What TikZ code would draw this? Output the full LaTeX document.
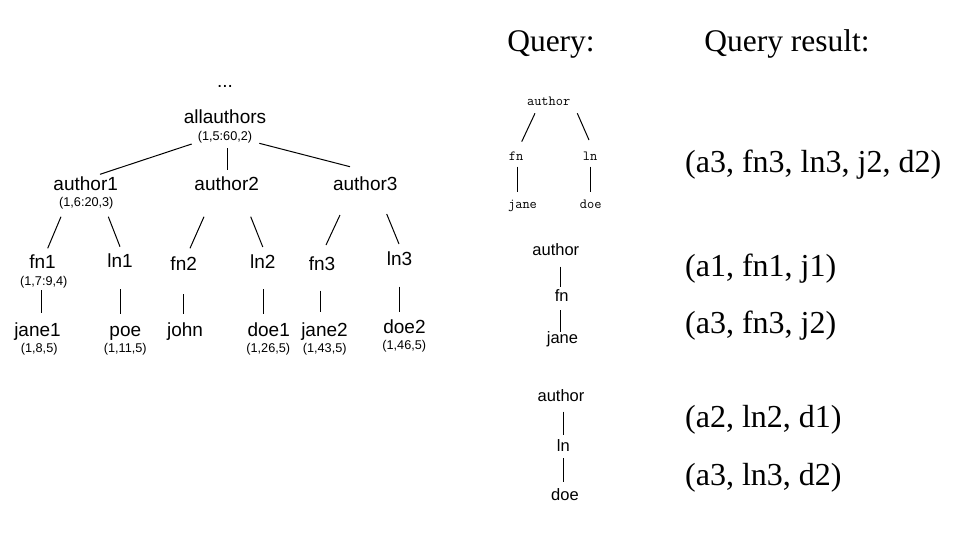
\documentclass[tikz,border=0pt]{standalone}
\usepackage{fontspec}
\setmainfont{Liberation Serif}
\setsansfont{Liberation Sans}
\tikzset{
  tn/.style={anchor=base,inner sep=0pt,font=\sffamily\fontsize{19}{21}\selectfont},
  tl/.style={anchor=base,inner sep=0pt,font=\sffamily\fontsize{12.7}{14}\selectfont},
  qt/.style={anchor=base,inner sep=0pt,font=\ttfamily\fontsize{14}{16}\selectfont},
  qs/.style={anchor=base,inner sep=0pt,font=\sffamily\fontsize{16.5}{18}\selectfont},
  hd/.style={anchor=base,inner sep=0pt,font=\fontsize{31.5}{34}\selectfont},
  res/.style={anchor=base west,inner sep=0pt,font=\fontsize{32}{36}\selectfont},
  edge/.style={line width=1pt}
}
\begin{document}
\begin{tikzpicture}[x=1pt,y=-1pt]
\useasboundingbox (0,0) rectangle (959,544);
% data tree
\node[tn] (dots) at (225,87) {...};
\node[tn] (aa) at (225,123) {allauthors};
\node[tl] (aal) at (225,140.4) {(1,5:60,2)};
\node[tn] (a1) at (85.7,190) {author1};
\node[tl] (a1l) at (86.3,206.7) {(1,6:20,3)};
\node[tn] (a2) at (226.7,190) {author2};
\node[tn] (a3) at (365.3,190) {author3};
\node[tn] (fn1) at (42.5,268) {fn1};
\node[tl] (fn1l) at (43.8,285.7) {(1,7:9,4)};
\node[tn] (ln1) at (120,267.7) {ln1};
\node[tn] (fn2) at (183.7,270) {fn2};
\node[tn] (ln2) at (262.8,268) {ln2};
\node[tn] (fn3) at (322,270) {fn3};
\node[tn] (ln3) at (399.5,265.7) {ln3};
\node[tn] (jane1) at (37.5,336) {jane1};
\node[tl] (jane1l) at (39.2,352.4) {(1,8,5)};
\node[tn] (poe) at (125.3,336) {poe};
\node[tl] (poel) at (125.3,352.4) {(1,11,5)};
\node[tn] (john) at (185,336) {john};
\node[tn] (doe1) at (268.7,336) {doe1};
\node[tl] (doe1l) at (268.3,352.4) {(1,26,5)};
\node[tn] (jane2) at (324.5,336) {jane2};
\node[tl] (jane2l) at (324.7,352.4) {(1,43,5)};
\node[tn] (doe2) at (404.5,333.3) {doe2};
\node[tl] (doe2l) at (404.3,349) {(1,46,5)};
\draw[edge] ([shift={(-33.3,3.6)}]aal.base) -- ([shift={(14.3,-15.7)}]a1.base);
\draw[edge] ([shift={(2.7,7.9)}]aal.base) -- ([shift={(1,-20)}]a2.base);
\draw[edge] ([shift={(34.3,2.9)}]aal.base) -- ([shift={(-15.3,-23.3)}]a3.base);
\draw[edge] ([shift={(-25.3,10)}]a1l.base) -- ([shift={(5.2,-19.7)}]fn1.base);
\draw[edge] ([shift={(22,10)}]a1l.base) -- ([shift={(0,-21)}]ln1.base);
\draw[edge] ([shift={(-22.7,26.7)}]a2.base) -- ([shift={(6.3,-21.7)}]fn2.base);
\draw[edge] ([shift={(24,26.7)}]a2.base) -- ([shift={(0,-21)}]ln2.base);
\draw[edge] ([shift={(-25.3,25)}]a3.base) -- ([shift={(4,-25)}]fn3.base);
\draw[edge] ([shift={(21.4,24)}]a3.base) -- ([shift={(-0.5,-21.7)}]ln3.base);
\draw[edge] ([shift={(-2.1,4.3)}]fn1l.base) -- ([shift={(4.2,-22.7)}]jane1.base);
\draw[edge] ([shift={(0,21.6)}]ln1.base) -- ([shift={(-5.3,-22)}]poe.base);
\draw[edge] ([shift={(0,24)}]fn2.base) -- ([shift={(-1.3,-22)}]john.base);
\draw[edge] ([shift={(0.5,21.3)}]ln2.base) -- ([shift={(-5.4,-22)}]doe1.base);
\draw[edge] ([shift={(-1.3,20.7)}]fn3.base) -- ([shift={(-3.8,-24.3)}]jane2.base);
\draw[edge] ([shift={(-0.2,21)}]ln3.base) -- ([shift={(-5.2,-21.6)}]doe2.base);
% headings
\node[hd] (qry) at (551,51.5) {Query:};
\node[hd] (qres) at (787,51.5) {Query result:};
% query 1
\node[qt] (q1a) at (548.7,105.7) {author};
\node[qt] (q1f) at (516,160) {fn};
\node[qt] (q1l) at (590,160) {ln};
\node[qt] (q1j) at (522.5,208.3) {jane};
\node[qt] (q1d) at (590.8,208.3) {doe};
\draw[edge] ([shift={(-13.7,7.6)}]q1a.base) -- ([shift={(5.7,-18.3)}]q1f.base);
\draw[edge] ([shift={(28.6,7.6)}]q1a.base) -- ([shift={(-1,-20)}]q1l.base);
\draw[edge] ([shift={(1.7,6.7)}]q1f.base) -- ([shift={(-4.8,-16.6)}]q1j.base);
\draw[edge] ([shift={(0,6.7)}]q1l.base) -- ([shift={(-0.8,-16.6)}]q1d.base);
% query 2
\node[qs] (q2a) at (555.8,255.7) {author};
\node[qs] (q2f) at (561.7,301.7) {fn};
\node[qs] (q2j) at (562.5,343.3) {jane};
\draw[edge] ([shift={(4.2,11)}]q2a.base) -- ([shift={(-1.7,-15)}]q2f.base);
\draw[edge] ([shift={(-1.7,8.3)}]q2f.base) -- ([shift={(-2.5,-11.6)}]q2j.base);
% query 3
\node[qs] (q3a) at (561,401) {author};
\node[qs] (q3l) at (563.3,451.7) {ln};
\node[qs] (q3d) at (565,500) {doe};
\draw[edge] ([shift={(2.3,10.7)}]q3a.base) -- ([shift={(0,-16.7)}]q3l.base);
\draw[edge] ([shift={(0,6.6)}]q3l.base) -- ([shift={(-1.7,-18.3)}]q3d.base);
% results
\node[res] (r1) at (685,172) {(a3, fn3, ln3, j2, d2)};
\node[res] (r2) at (685,276) {(a1, fn1, j1)};
\node[res] (r3) at (685,333) {(a3, fn3, j2)};
\node[res] (r4) at (685,427) {(a2, ln2, d1)};
\node[res] (r5) at (685,485) {(a3, ln3, d2)};
\end{tikzpicture}
\end{document}
